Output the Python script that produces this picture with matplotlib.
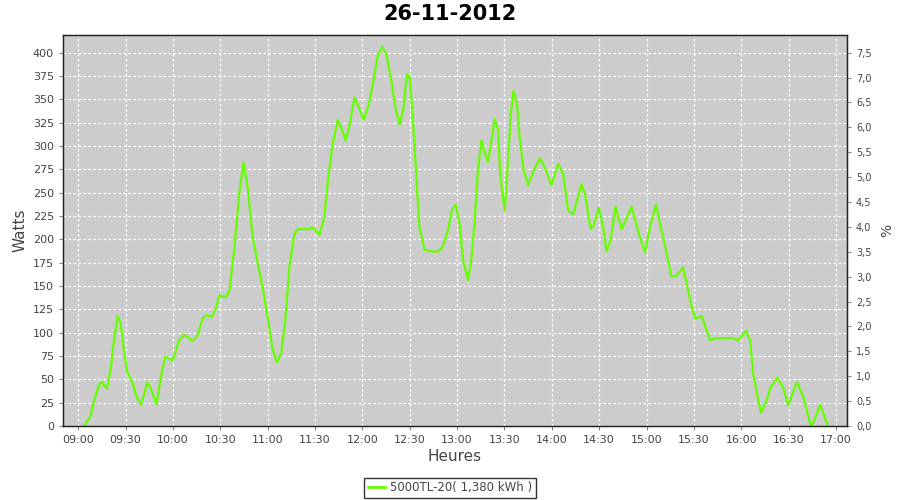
import matplotlib
matplotlib.use("Agg")
import matplotlib.pyplot as plt
from matplotlib.ticker import FuncFormatter
from matplotlib.lines import Line2D

title = "26-11-2012"
series_name = "5000TL-20( 1,380 kWh )"
x_tick_labels = ["09:00", "09:30", "10:00", "10:30", "11:00", "11:30", "12:00", "12:30",
                 "13:00", "13:30", "14:00", "14:30", "15:00", "15:30", "16:00", "16:30", "17:00"]

# minutes after 09:00
minutes = [3.8, 8.0, 9.0, 11.2, 13.4, 15.0, 18.2, 20.8, 22.2, 25.0, 27.0, 29.2, 31.2, 34.4, 37.0,
           39.8, 44.0, 47.2, 49.6, 52.4, 55.2, 59.8, 64.0, 67.2, 72.4, 75.6, 78.8, 81.0, 84.8,
           87.4, 89.4, 93.6, 95.8, 99.0, 102.2, 104.8, 107.4, 110.6, 113.8, 116.8, 120.0, 122.8, 125.8,
           128.6, 131.2, 133.8, 137.0, 139.0, 146.6, 148.6, 152.8, 156.0, 158.2, 161.2, 164.4, 166.6, 169.4,
           171.8, 175.0, 178.2, 180.8, 184.2, 186.6, 189.8, 192.6, 195.2, 198.4, 201.0, 203.6, 206.2,
           208.2, 210.0, 212.0, 214.2, 216.2, 219.4, 223.6, 227.8, 231.0, 234.2, 237.0, 239.2,
           241.6, 243.8, 247.0, 249.0, 251.2, 253.2, 255.4, 257.6, 259.6, 261.8, 263.8, 266.0,
           267.4, 270.2, 272.2, 274.0, 275.8, 278.0, 279.6, 282.2, 285.0, 288.2, 292.4, 295.6,
           299.8, 304.0, 307.2, 310.4, 313.6, 318.8, 321.0, 324.6, 326.6, 329.8, 332.6, 334.6,
           337.2, 340.4, 344.2, 350.6, 355.8, 359.0, 362.2, 366.0, 370.6, 375.8, 379.0, 383.2,
           387.6, 390.8, 395.0, 400.2, 404.4, 415.0, 418.2, 423.0, 425.6, 427.6, 432.4, 436.2,
           438.2, 442.8, 446.4, 449.8, 455.2, 459.4, 464.0, 465.6, 470.0, 474.2, 475.0]
watts = [0, 11, 20, 33, 45, 47, 40, 63, 85, 118, 110, 78, 57, 47, 31,
         23, 47, 35, 23, 53, 74, 70, 92, 98, 91, 97, 115, 119, 117,
         127, 140, 138, 145, 192, 252, 282, 256, 202, 174, 149, 117, 85, 68,
         78, 113, 170, 206, 211, 211, 213, 205, 224, 263, 302, 328, 320, 306,
         322, 352, 340, 328, 345, 366, 397, 406, 399, 370, 341, 323, 341,
         377, 374, 331, 267, 213, 189, 187, 187, 192, 210, 233, 237,
         217, 178, 156, 178, 220, 274, 306, 293, 283, 306, 329, 317,
         267, 231, 281, 334, 359, 345, 309, 274, 258, 272, 287, 277,
         258, 281, 270, 231, 227, 259, 249, 211, 215, 234, 213, 187,
         199, 235, 211, 235, 202, 186, 213, 237, 202, 160, 161, 170,
         135, 115, 118, 92, 94, 94, 92, 102, 92, 56, 14, 28,
         40, 52, 42, 22, 47, 31, 0, 3, 23, 3, 0]

percent_max_label = 7.5   # right axis value aligned with 400 W
watts_at_percent_max = 400

fig = plt.figure(figsize=(9, 5), dpi=100)
fig.patch.set_facecolor("white")
ax = fig.add_axes([63 / 900, 1 - 426 / 500, (847 - 63) / 900, (426 - 35) / 500])
ax.set_facecolor("#cccccc")

ax.plot(minutes, watts, color="#66ff00", lw=1.6, solid_joinstyle="round")

xt = [30 * i for i in range(len(x_tick_labels))]
ax.set_xticks(xt)
ax.set_xticklabels(x_tick_labels)
ax.set_xlim(-9.6, 487.0)
ax.set_ylim(0, 419)
ax.set_yticks(range(0, 401, 25))

ax.grid(True, color="white", linestyle=(0, (2, 2)), linewidth=0.9)
ax.set_axisbelow(True)

tick_color = "#444444"
ax.tick_params(axis="both", labelsize=8, colors="#888888", labelcolor=tick_color, length=3, width=0.8)
for s in ax.spines.values():
    s.set_color("#222222")
    s.set_linewidth(1.0)

ax.set_ylabel("Watts", fontsize=11, color=tick_color, labelpad=4)
ax.set_xlabel("Heures", fontsize=11, color=tick_color, labelpad=3)

ax2 = ax.twinx()
ax2.set_ylim(0, 419 * percent_max_label / watts_at_percent_max)
ax2.set_yticks([0.5 * i for i in range(16)])
ax2.yaxis.set_major_formatter(FuncFormatter(lambda v, p: f"{v:.1f}".replace(".", ",")))
ax2.tick_params(axis="y", labelsize=7, colors="#888888", labelcolor=tick_color, length=3, width=0.8)
ax2.set_ylabel("%", fontsize=10, color=tick_color, labelpad=6)
for s in ax2.spines.values():
    s.set_color("#222222")

fig.suptitle(title, fontsize=15, fontweight="bold", y=0.993, color="black")

h = [Line2D([0], [0], color="#66ff00", lw=2)]
leg = fig.legend(h, [series_name], loc="center", bbox_to_anchor=(0.5, 0.024), fontsize=8.5,
                 frameon=True, fancybox=False, edgecolor="black", handlelength=1.5,
                 handletextpad=0.4, borderpad=0.3, borderaxespad=0)
for t in leg.get_texts():
    t.set_color(tick_color)
leg.get_frame().set_linewidth(1.0)

fig.savefig("out.png", dpi=100)
